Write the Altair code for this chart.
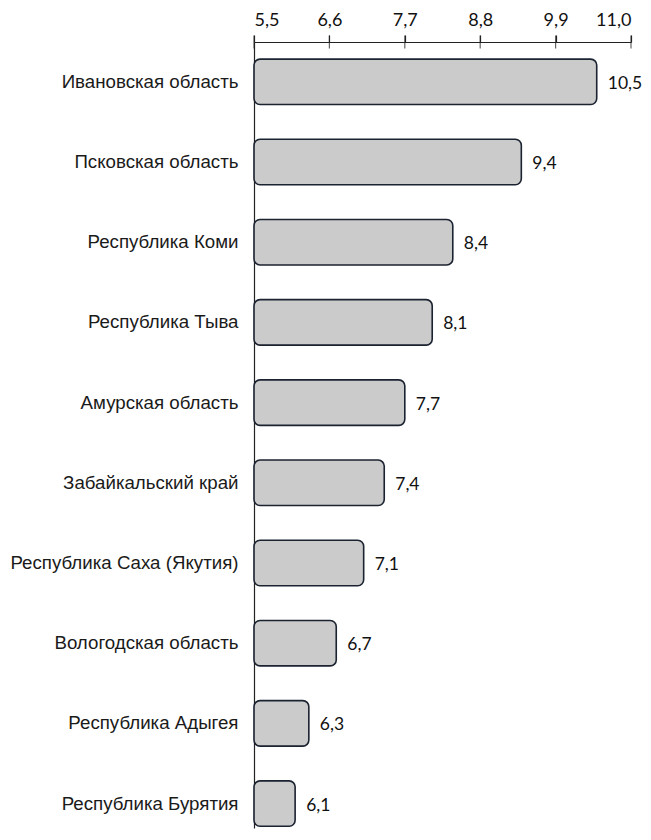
import altair as alt
import pandas as pd

regions = [
    "Ивановская область",
    "Псковская область",
    "Республика Коми",
    "Республика Тыва",
    "Амурская область",
    "Забайкальский край",
    "Республика Саха (Якутия)",
    "Вологодская область",
    "Республика Адыгея",
    "Республика Бурятия",
]
values = [10.5, 9.4, 8.4, 8.1, 7.7, 7.4, 7.1, 6.7, 6.3, 6.1]
axis_ticks = [5.5, 6.6, 7.7, 8.8, 9.9, 11.0]
axis_min = 5.5
axis_max = 11.0

df = pd.DataFrame({"region": regions, "value": values, "base": [axis_min] * len(values)})
df["label"] = [f"{v:.1f}".replace(".", ",") for v in values]
ticks_df = pd.DataFrame({"t": axis_ticks})

xscale = alt.Scale(domain=[axis_min, axis_max], zero=False, nice=False)
yscale = alt.Scale(paddingInner=0.433, paddingOuter=0.117, align=0.91)

x_axis = alt.Axis(
    orient="top",
    values=axis_ticks,
    labelExpr="replace(format(datum.value, '.1f'), '.', ',')",
    grid=False,
    domainColor="#222222",
    domainWidth=1.2,
    tickColor="#222222",
    tickWidth=1.2,
    tickSize=7,
    labelFont="Lato",
    labelFontSize=18,
    labelColor="#111111",
    labelPadding=6,
    title=None,
)
y_axis = alt.Axis(
    ticks=False,
    domainColor="#222222",
    domainWidth=1.2,
    labelFont="Liberation Sans",
    labelFontSize=18.7,
    labelColor="#1a1a1a",
    labelPadding=16,
    labelLimit=0,
    title=None,
)

ysort = regions

bars = alt.Chart(df).mark_bar(
    fill="#cbcbcb",
    stroke="#1b2230",
    strokeWidth=1.6,
    cornerRadiusEnd=6,
).encode(
    x=alt.X("value:Q", scale=xscale, axis=x_axis),
    x2="base:Q",
    y=alt.Y("region:N", sort=ysort, scale=yscale, axis=y_axis),
)

text = alt.Chart(df).mark_text(
    align="left", baseline="middle", dx=11, dy=2,
    font="Lato", fontSize=17.5, color="#111111",
).encode(
    x=alt.X("value:Q", scale=xscale),
    y=alt.Y("region:N", sort=ysort, scale=yscale),
    text="label:N",
)

lower_ticks = alt.Chart(ticks_df).mark_tick(
    orient="vertical", color="#222222", thickness=1.2, size=13,
).encode(
    x=alt.X("t:Q", scale=xscale),
    y=alt.value(0),
)

chart = alt.layer(bars, text, lower_ticks).properties(
    width=377,
    height=786,
    autosize=alt.AutoSizeParams(type="none"),
    padding={"left": 246, "top": 34, "right": 12, "bottom": 4},
).configure(background="white").configure_view(stroke=None, strokeWidth=0)

chart.save("out.html", embed_options={"renderer": "svg", "actions": False})
